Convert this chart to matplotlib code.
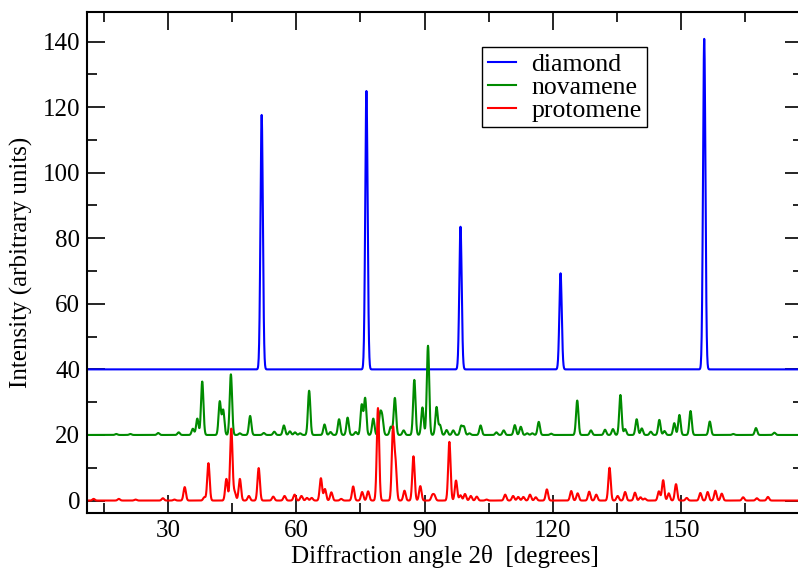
import numpy as np
import matplotlib
matplotlib.use("Agg")
import matplotlib.pyplot as plt

# peak positions (2theta, degrees) and heights
diamond_pos = [51.9, 76.4, 98.4, 121.8, 155.4]
diamond_hgt = [77.6, 84.9, 43.5, 29.3, 100.8]

novamene_pos = [17.9, 21.2, 27.7, 32.5, 35.8, 36.85, 38.0, 42.1, 42.9, 44.7,
                46.8, 49.2, 52.4, 54.85, 57.1, 58.5, 59.7, 60.9, 63.0, 66.6,
                68.0, 70.0, 72.0, 73.9, 75.3, 76.1, 78.0, 79.6, 80.1, 82.1,
                83.05, 85.1, 87.6, 89.5, 90.8, 92.8, 93.6, 95.15, 96.7, 98.55,
                99.2, 100.5, 103.1, 106.8, 108.5, 111.1, 112.5, 114.0, 115.2, 116.7,
                119.6, 125.7, 128.9, 132.2, 134.05, 135.8, 136.9, 139.6, 140.8, 142.9,
                144.9, 146.1, 148.4, 149.6, 152.2, 156.7, 162.2, 167.5, 171.8]
novamene_hgt = [0.3, 0.3, 0.6, 0.8, 1.9, 5.0, 16.3, 10.2, 7.6, 18.5,
                0.5, 5.8, 0.6, 1.0, 2.9, 1.1, 0.8, 0.5, 13.5, 3.2,
                0.9, 4.8, 5.3, 0.9, 9.2, 11.2, 5.0, 6.0, 5.0, 2.5,
                11.3, 1.4, 16.8, 8.4, 27.2, 8.5, 3.0, 1.5, 1.4, 2.7,
                2.5, 0.5, 2.9, 0.8, 1.4, 3.0, 2.5, 0.5, 0.5, 4.0,
                0.4, 10.5, 1.4, 1.6, 1.8, 12.2, 1.8, 4.8, 2.0, 1.0,
                4.6, 1.2, 3.6, 6.1, 7.3, 4.1, 0.3, 2.1, 0.7]

protomene_pos = [12.6, 18.5, 22.4, 28.8, 31.5, 33.9, 38.5, 39.45, 43.65, 44.8,
                 45.6, 46.8, 48.9, 51.2, 54.6, 57.25, 59.6, 61.2, 62.5, 63.6,
                 65.75, 66.7, 68.2, 70.5, 73.3, 75.4, 76.8, 79.1, 82.6, 83.2,
                 85.3, 87.4, 89.0, 91.8, 92.3, 95.8, 97.35, 98.4, 99.45, 100.8,
                 102.2, 104.5, 108.85, 110.7, 111.9, 113.1, 114.65, 116.0, 118.6, 124.3,
                 125.8, 128.5, 130.15, 133.25, 135.15, 136.9, 139.2, 140.5, 141.5, 144.8,
                 145.8, 147.1, 148.8, 151.3, 154.5, 156.2, 158.0, 159.5, 164.5, 167.7,
                 170.3]
protomene_hgt = [0.5, 0.5, 0.3, 0.7, 0.3, 4.1, 1.0, 11.4, 6.6, 21.9,
                 2.5, 6.6, 1.4, 9.9, 1.2, 1.4, 1.8, 1.4, 0.8, 0.8,
                 6.8, 3.5, 2.5, 0.5, 4.3, 2.6, 2.8, 28.2, 21.4, 11.0,
                 3.0, 13.5, 4.4, 1.5, 1.5, 17.9, 6.1, 1.6, 2.0, 1.4,
                 1.2, 0.3, 1.8, 1.4, 1.1, 1.1, 1.8, 1.0, 3.4, 2.9,
                 2.2, 2.7, 1.8, 10.0, 1.4, 2.6, 2.4, 1.0, 0.6, 2.8,
                 6.2, 2.2, 5.0, 0.8, 2.3, 2.6, 3.0, 2.1, 1.0, 0.7,
                 1.1]

offsets = [40, 20, 0]
names = ["diamond", "novamene", "protomene"]
colors = ["#0000ff", "#008b00", "#ff0000"]

xticks = [30, 60, 90, 120, 150]


def pattern(x, pos, hgt, sigma=0.28):
    y = np.zeros_like(x)
    for p, h in zip(pos, hgt):
        y += h * np.exp(-0.5 * ((x - p) / sigma) ** 2)
    return y


plt.rcParams['font.family'] = ['Liberation Serif', 'DejaVu Serif']
plt.rcParams['font.size'] = 18

fig = plt.figure(figsize=(7.98, 5.69), dpi=100)
W, H = 798, 569
ax = fig.add_axes([87 / W, (H - 513) / H, (803 - 87) / W, (513 - 12) / H])

x = np.arange(5, 180, 0.05)
series = [(diamond_pos, diamond_hgt), (novamene_pos, novamene_hgt),
          (protomene_pos, protomene_hgt)]
for (pos, hgt), off, name, c in zip(series, offsets, names, colors):
    ax.plot(x, pattern(x, pos, hgt) + off, color=c, lw=1.5, label=name)

ax.set_xlim(11.05, 178.5)
ax.set_ylim(-3.8, 149)
ax.set_xticks(xticks)
ax.set_xticks(np.arange(15, 180, 15), minor=True)
ax.set_yticks(np.arange(0, 141, 20))
ax.set_yticks(np.arange(10, 150, 20), minor=True)
ax.tick_params(which='both', direction='in', top=True, right=True, width=1.2, pad=5)
ax.tick_params(which='major', length=13)
ax.tick_params(which='minor', length=7)
for s in ax.spines.values():
    s.set_linewidth(1.5)

ax.set_xlabel("Diffraction angle 2\u03b8  [degrees]")
ax.xaxis.set_label_coords(0.5, -0.064)
ax.set_ylabel("Intensity (arbitrary units)", va='center')
ax.yaxis.set_label_coords(-0.0915, 0.5)

leg = ax.legend(loc='upper left', bbox_to_anchor=(482 / W, (H - 47) / H),
                bbox_transform=fig.transFigure, fancybox=False, framealpha=1,
                edgecolor='black', handlelength=1.1, handletextpad=0.6,
                labelspacing=0.0, borderpad=0.22, borderaxespad=0,
                prop={'size': 18.5})
leg.get_frame().set_linewidth(1.0)

fig.savefig("out.png", dpi=100)
